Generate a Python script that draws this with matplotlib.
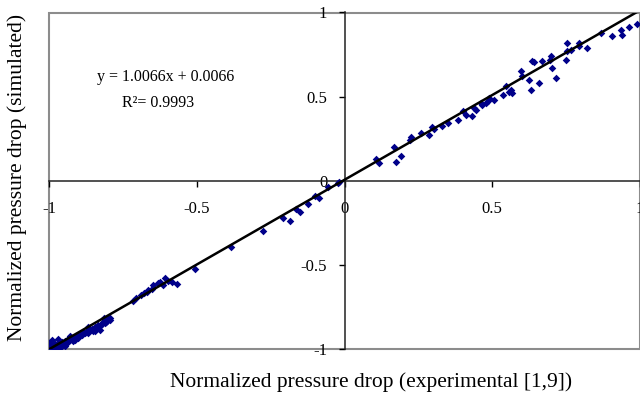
import matplotlib
matplotlib.use("Agg")
import matplotlib.pyplot as plt
import numpy as np

plt.rcParams['font.family'] = ['Liberation Serif', 'DejaVu Serif']
plt.rcParams['axes.unicode_minus'] = False

# experimental (x) vs simulated (y) normalized pressure drop
x_exp = [
    -0.997, -0.990, -0.983, -0.980, -0.973, -0.970, -0.963, -0.956, -0.953, -0.946,
    -0.939, -0.936, -0.929, -0.922, -0.919, -0.912, -0.905, -0.902, -0.895, -0.889,
    -0.885, -0.878, -0.872, -0.868, -0.861, -0.855, -0.851, -0.845, -0.838, -0.834,
    -0.828, -0.821, -0.818, -0.811, -0.804, -0.801, -0.794, -0.828, -0.845, -0.912,
    -0.963, -0.946, -1.000, -0.990, -0.970, -0.929, -0.868, -0.814,
    -0.794, -0.806,
    -0.715, -0.704, -0.687, -0.679, -0.670, -0.666, -0.653, -0.648, -0.632, -0.625,
    -0.614, -0.608, -0.598, -0.585, -0.567,
    -0.507, -0.385, -0.276, -0.208, -0.186, -0.163, -0.152, -0.124, -0.099, -0.085,
    -0.056, -0.023, -0.017,
    0.107, 0.118, 0.169, 0.175, 0.192, 0.220, 0.225, 0.259, 0.287, 0.295,
    0.304, 0.329, 0.349, 0.383, 0.400, 0.411, 0.433, 0.439, 0.445, 0.462,
    0.467, 0.479, 0.484, 0.490, 0.507, 0.535, 0.548, 0.557, 0.563, 0.568,
    0.597, 0.602, 0.625, 0.631, 0.636, 0.642, 0.659, 0.670, 0.695, 0.698,
    0.702, 0.715, 0.750, 0.754, 0.754, 0.766, 0.794, 0.794, 0.822, 0.867,
    0.906, 0.935, 0.940, 0.963, 0.991,
]
y_sim = [
    -0.988, -0.976, -0.994, -0.970, -0.982, -0.964, -0.976, -0.958, -0.970, -0.952,
    -0.964, -0.940, -0.946, -0.935, -0.952, -0.929, -0.923, -0.935, -0.911, -0.917,
    -0.899, -0.905, -0.893, -0.905, -0.887, -0.881, -0.893, -0.869, -0.875, -0.857,
    -0.863, -0.851, -0.839, -0.845, -0.833, -0.815, -0.827, -0.887, -0.893, -0.946,
    -0.994, -0.982, -0.964, -0.946, -0.940, -0.923, -0.869, -0.815,
    -0.817, -0.837,
    -0.713, -0.698, -0.679, -0.667, -0.659, -0.649, -0.639, -0.619, -0.607, -0.601,
    -0.619, -0.579, -0.595, -0.599, -0.613,
    -0.524, -0.391, -0.298, -0.222, -0.236, -0.168, -0.183, -0.139, -0.088, -0.103,
    -0.034, -0.010, -0.004,
    0.129, 0.105, 0.204, 0.115, 0.145, 0.244, 0.260, 0.284, 0.274, 0.323,
    0.308, 0.327, 0.343, 0.363, 0.413, 0.393, 0.383, 0.433, 0.423, 0.462,
    0.452, 0.462, 0.472, 0.492, 0.482, 0.512, 0.561, 0.526, 0.542, 0.522,
    0.651, 0.625, 0.601, 0.542, 0.710, 0.704, 0.582, 0.710, 0.720, 0.740,
    0.671, 0.611, 0.720, 0.820, 0.770, 0.780, 0.820, 0.804, 0.790, 0.879,
    0.859, 0.899, 0.869, 0.915, 0.929,
]

slope = 1.0066
intercept = 0.0066

ticks = [-1, -0.5, 0, 0.5, 1]
tick_labels = ['-1', '-0.5', '0', '0.5', '1']

fig = plt.figure(figsize=(6.40, 3.99), dpi=100)
ax = fig.add_axes([49/640, 49.7/399, 591/640, 336.8/399])
ax.set_xlim(-1, 1)
ax.set_ylim(-1, 1)

ax.scatter(x_exp, y_sim, marker='D', s=15, color='#00008a', linewidths=0, zorder=3)
xl = np.array([-1.0, 1.0])
ax.plot(xl, slope * xl + intercept, color='black', lw=1.8, zorder=4)

for s in ['top', 'right']:
    ax.spines[s].set_visible(False)
ax.spines['left'].set_position(('data', 0))
ax.spines['bottom'].set_position(('data', 0))
ax.spines['left'].set_color('#222222')
ax.spines['bottom'].set_color('#222222')
ax.spines['left'].set_linewidth(1.1)
ax.spines['bottom'].set_linewidth(1.1)
ax.patch.set_edgecolor('#8c8c8c')
ax.patch.set_linewidth(1.5)

ax.set_xticks(ticks)
ax.set_xticklabels(tick_labels)
ax.set_yticks(ticks)
ax.set_yticklabels(tick_labels)
ax.tick_params(axis='x', direction='out', length=4.5, width=1.0, pad=10, labelsize=12)
ax.tick_params(axis='y', direction='out', length=4.5, width=1.0, pad=8, labelsize=12)

fig.text(166/640, 1 - 77/399, 'y = 1.0066x + 0.0066', ha='center', va='center', fontsize=11.5)
fig.text(158/640, 1 - 103/399, 'R\u00b2= 0.9993', ha='center', va='center', fontsize=11.5)

fig.text(371/640, 1 - 382/399, 'Normalized pressure drop (experimental [1,9])',
         ha='center', va='center', fontsize=15.5)
fig.text(17/640, 1 - 177/399, 'Normalized pressure drop (simulated)',
         ha='center', va='center', rotation=90, fontsize=15.5)

fig.savefig('out.png', dpi=100)
